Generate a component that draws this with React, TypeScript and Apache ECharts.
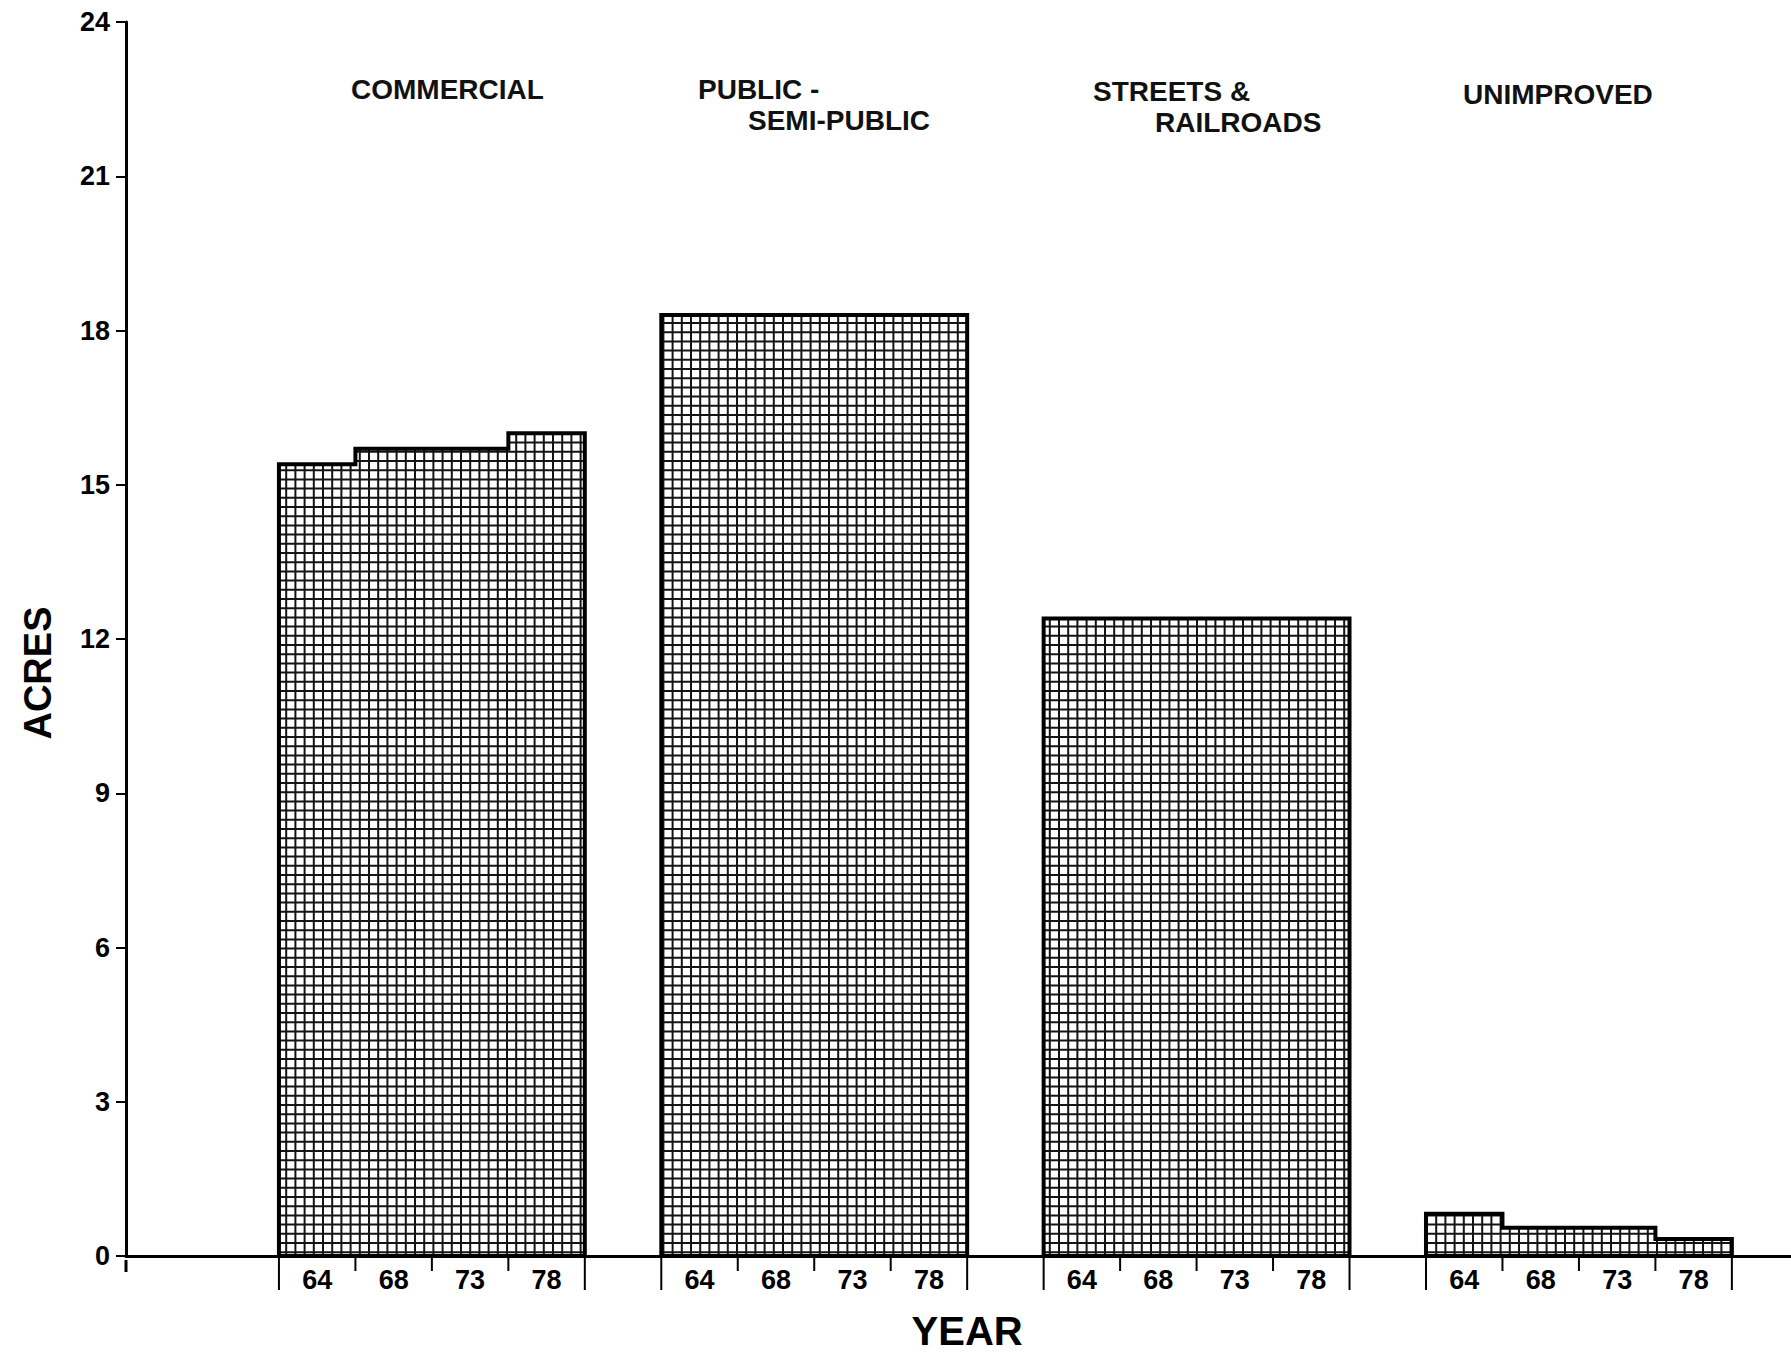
import React, { useEffect, useRef } from 'react';
import * as echarts from 'echarts';

// ---------- data ----------
const categories = ['COMMERCIAL', 'PUBLIC -\nSEMI-PUBLIC', 'STREETS &\nRAILROADS', 'UNIMPROVED'];
const years = ['64', '68', '73', '78'];
const commercial = [15.4, 15.7, 15.7, 16.0];
const publicSemiPublic = [18.3, 18.3, 18.3, 18.3];
const streetsRailroads = [12.4, 12.4, 12.4, 12.4];
const unimproved = [0.82, 0.55, 0.55, 0.33];
const yTickValues = [0, 3, 6, 9, 12, 15, 18, 21, 24];
const yAxisTitle = 'ACRES';
const xAxisTitle = 'YEAR';

const groupValues = [commercial, publicSemiPublic, streetsRailroads, unimproved];

// ---------- layout ----------
const W = 1791;
const H = 1356;
const LEAD_SLOTS = 2;
const GAP_SLOTS = 1;
const TRAIL_SLOTS = 1;
const GRID_LEFT = 126;
const GRID_TOP = 22;
const GRID_BOTTOM = 96;
const SLOT_W = 76.47;

// left x and vertical centre of each title line
const titlePos: number[][][] = [
  [[351, 89]],
  [[698, 89], [748, 120]],
  [[1093, 91], [1155, 122]],
  [[1463, 94]],
];

const slotLabels: string[] = [];
for (let i = 0; i < LEAD_SLOTS; i++) slotLabels.push('');
groupValues.forEach((_, g) => {
  if (g > 0) for (let i = 0; i < GAP_SLOTS; i++) slotLabels.push('');
  years.forEach((y) => slotLabels.push(y));
});
for (let i = 0; i < TRAIL_SLOTS; i++) slotLabels.push('');
const groupStart = (g: number) => LEAD_SLOTS + g * (years.length + GAP_SLOTS);

const NARROW = '"Liberation Sans Narrow", "Liberation Sans", Arial, sans-serif';
const SANS = '"Liberation Sans", Arial, Helvetica, sans-serif';

function makePattern() {
  const cell = 9.2;
  const n = 5;
  const T = cell * n;
  let d = '';
  for (let i = 0; i < n; i++) {
    const p = (i * cell + 1).toFixed(2);
    d += `M${p} 0V${T}M0 ${p}H${T}`;
  }
  const svg = `<svg xmlns="http://www.w3.org/2000/svg" width="${T}" height="${T}"><rect width="${T}" height="${T}" fill="#ffffff"/><path d="${d}" stroke="#141414" stroke-width="2" fill="none"/></svg>`;
  return {
    image: 'data:image/svg+xml;charset=utf-8,' + encodeURIComponent(svg),
    repeat: 'repeat',
    imageWidth: T,
    imageHeight: T,
  } as any;
}

export default function App() {
  const ref = useRef<HTMLDivElement>(null);
  const chartW = Math.ceil(GRID_LEFT + slotLabels.length * SLOT_W);
  useEffect(() => {
    document.body.style.margin = '0';
    document.body.style.overflow = 'hidden';
    if (!ref.current) return;
    const chart = echarts.init(ref.current, null, { renderer: 'svg' });
    const pattern = makePattern();
    const gridRight = chartW - GRID_LEFT - slotLabels.length * SLOT_W;

    const graphics: any[] = [];
    categories.forEach((c, g) => {
      c.split('\n').forEach((line, li) => {
        const pos = titlePos[g][li];
        graphics.push({
          type: 'text',
          x: pos[0],
          y: pos[1],
          style: {
            text: line,
            fontSize: 28,
            fontWeight: 'bold',
            fontFamily: SANS,
            fill: '#111',
            align: 'left',
            verticalAlign: 'middle',
          },
        });
      });
    });
    const baseY = H - GRID_BOTTOM;
    graphics.push({
      type: 'line',
      shape: { x1: GRID_LEFT, y1: baseY, x2: GRID_LEFT, y2: baseY + 12 },
      style: { stroke: '#000', lineWidth: 3 },
    });

    const option: any = {
      animation: false,
      backgroundColor: '#ffffff',
      grid: { left: GRID_LEFT, top: GRID_TOP, bottom: GRID_BOTTOM, right: gridRight, containLabel: false },
      xAxis: {
        type: 'category',
        data: slotLabels,
        boundaryGap: true,
        name: xAxisTitle,
        nameLocation: 'middle',
        nameGap: 55,
        nameTextStyle: { fontSize: 40, fontWeight: 'bold', fontFamily: SANS, color: '#000' },
        axisLine: { show: true, lineStyle: { color: '#000', width: 3 } },
        axisTick: { show: false },
        axisLabel: {
          interval: 0,
          margin: 10,
          fontSize: 27,
          fontWeight: 'bold',
          fontFamily: NARROW,
          color: '#000',
        },
        splitLine: { show: false },
      },
      yAxis: {
        type: 'value',
        min: yTickValues[0],
        max: yTickValues[yTickValues.length - 1],
        interval: yTickValues[1] - yTickValues[0],
        name: yAxisTitle,
        nameLocation: 'middle',
        nameGap: 69,
        nameRotate: 90,
        nameTextStyle: { fontSize: 38, fontWeight: 'bold', fontFamily: SANS, color: '#000', padding: [0, 68, 0, 0] },
        axisLine: { show: true, lineStyle: { color: '#000', width: 3 } },
        axisTick: { show: true, length: 10, lineStyle: { color: '#000', width: 2 } },
        axisLabel: {
          margin: 16,
          fontSize: 27,
          fontWeight: 'bold',
          fontFamily: NARROW,
          color: '#000',
        },
        splitLine: { show: false },
      },
      graphic: graphics,
      series: [
        {
          type: 'custom',
          clip: false,
          encode: { x: 0, y: 1 },
          data: groupValues.map((vals, g) => [groupStart(g), ...vals]),
          renderItem: (params: any, api: any) => {
            const start = api.value(0) as number;
            const band = api.size([1, 0])[0];
            const base = api.coord([start, 0])[1];
            const x0 = api.coord([start, 0])[0] - band / 2;
            const n = years.length;
            const pts: number[][] = [[x0, base]];
            for (let k = 0; k < n; k++) {
              const y = api.coord([start + k, api.value(1 + k)])[1];
              pts.push([x0 + k * band, y], [x0 + (k + 1) * band, y]);
            }
            pts.push([x0 + n * band, base]);
            const children: any[] = [
              {
                type: 'polygon',
                shape: { points: pts },
                style: { fill: pattern, stroke: '#000', lineWidth: 4, lineJoin: 'miter' },
              },
            ];
            for (let k = 0; k <= n; k++) {
              const x = x0 + k * band;
              const len = k === 0 || k === n ? 34 : 15;
              children.push({
                type: 'line',
                shape: { x1: x, y1: base, x2: x, y2: base + len },
                style: { stroke: '#000', lineWidth: 2 },
              });
            }
            return { type: 'group', children };
          },
        },
      ],
    };
    chart.setOption(option);
    return () => chart.dispose();
  }, []);
  return (
    <div style={{ width: W, height: H, overflow: 'hidden', background: '#fff' }}>
      <div ref={ref} style={{ width: chartW, height: H }} />
    </div>
  );
}
